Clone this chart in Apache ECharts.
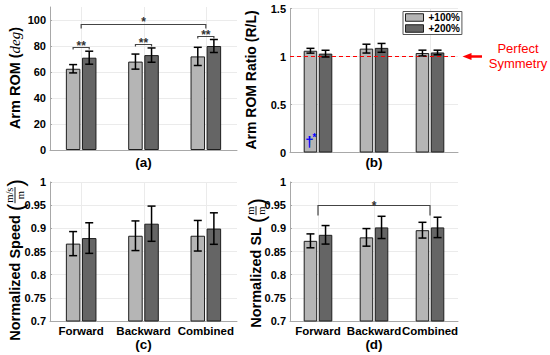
<!DOCTYPE html>
<html><head><meta charset="utf-8">
<script src="https://cdn.jsdelivr.net/npm/echarts@6/dist/echarts.min.js"></script>
<style>html,body{margin:0;padding:0;background:#fff}#c{width:550px;height:355px}</style>
</head><body><div id="c"></div>
<script>
// ---------- data ----------
const categories = ['Forward', 'Backward', 'Combined'];
const seriesNames = ['+100%', '+200%'];
// (a) Arm ROM (deg)
const romMean100 = [62.5, 68, 72];
const romErr100  = [3.2, 5.8, 7];
const romMean200 = [71, 73, 80];
const romErr200  = [5, 5.5, 5];
// (b) Arm ROM ratio (R/L)
const ratioMean100 = [1.06, 1.082, 1.036];
const ratioErr100  = [0.025, 0.046, 0.03];
const ratioMean200 = [1.03, 1.09, 1.042];
const ratioErr200  = [0.035, 0.046, 0.024];
// (c) Normalized speed
const speedMean100 = [0.867, 0.884, 0.884];
const speedErr100  = [0.026, 0.032, 0.033];
const speedMean200 = [0.879, 0.910, 0.8995];
const speedErr200  = [0.033, 0.038, 0.034];
// (d) Normalized SL
const slMean100 = [0.873, 0.8805, 0.896];
const slErr100  = [0.015, 0.019, 0.017];
const slMean200 = [0.886, 0.902, 0.902];
const slErr200  = [0.020, 0.024, 0.022];
// significance annotations: [category, y, label] (pair within group) / [catA, catB, y, label]
const romPairSig  = [[0, 79.2, '**'], [1, 81.3, '**'], [2, 87.7, '**']];
const romGroupSig = [[0, 2, 96.7, '*']];
const slGroupSig  = [[0, 2, 0.950, '*']];
const symmetryLevel = 1;
// tick settings
const yTicks = [
  {min: 0, max: 110, interval: 20},
  {min: 0, max: 1.5, interval: 0.5},
  {min: 0.7, max: 1, interval: 0.05},
  {min: 0.7, max: 1, interval: 0.05}
];

// ---------- styles ----------
const SANS = '"Liberation Sans", Arial, Helvetica, sans-serif';
const SERIF = '"Liberation Serif", "Times New Roman", serif';
const lightColor = '#b5b5b5', darkColor = '#656565', edgeColor = '#1e1e1e';
const axisColor = '#a8a8a8', gridColor = '#ebebeb';
const GAP = 1.6;

const panels = [
  {m: [romMean100, romMean200], e: [romErr100, romErr200], grid: {left: 50, top: 7, width: 187, height: 143}, bw: 14.5, xname: '(a)', showX: false, nameGap: 5},
  {m: [ratioMean100, ratioMean200], e: [ratioErr100, ratioErr200], grid: {left: 290, top: 8.5, width: 168, height: 144}, bw: 13.5, xname: '(b)', showX: false, nameGap: 3},
  {m: [speedMean100, speedMean200], e: [speedErr100, speedErr200], grid: {left: 50, top: 182, width: 187, height: 139}, bw: 14.5, xname: '(c)', showX: true, nameGap: 16.5},
  {m: [slMean100, slMean200], e: [slErr100, slErr200], grid: {left: 290, top: 182, width: 168, height: 139}, bw: 13.5, xname: '(d)', showX: true, nameGap: 16.5}
];

const chart = echarts.init(document.getElementById('c'), null, {renderer: 'svg', width: 550, height: 355});

function errRender(bw) {
  return function (params, api) {
    const cat = api.value(0), s = api.value(1), mv = api.value(2), ev = api.value(3);
    const off = (s === 0 ? -1 : 1) * (bw + GAP) / 2;
    const top = api.coord([cat, mv + ev]);
    const bot = api.coord([cat, mv - ev]);
    const x = top[0] + off, cw = 4;
    const st = {stroke: '#000', lineWidth: 1.5};
    return {type: 'group', children: [
      {type: 'line', shape: {x1: x, y1: top[1], x2: x, y2: bot[1]}, style: st},
      {type: 'line', shape: {x1: x - cw, y1: top[1], x2: x + cw, y2: top[1]}, style: st},
      {type: 'line', shape: {x1: x - cw, y1: bot[1], x2: x + cw, y2: bot[1]}, style: st}
    ]};
  };
}
function vgridRender(params, api) {
  const x = Math.round(api.coord([api.value(0), api.value(1)])[0]) + 0.5;
  const cs = params.coordSys;
  return {type: 'line', shape: {x1: x, y1: cs.y, x2: x, y2: cs.y + cs.height}, style: {stroke: gridColor, lineWidth: 1}};
}
function bracketRender(bw, labels, dropPx, starOff) {
  return function (params, api) {
    const off = (bw + GAP) / 2;
    const a = api.coord([api.value(0), api.value(4)]);
    const b = api.coord([api.value(2), api.value(4)]);
    const xA = a[0] + api.value(1) * off, xB = b[0] + api.value(3) * off, y = Math.round(a[1]) + 0.5;
    return {type: 'group', children: [
      {type: 'polyline', shape: {points: [[xA, y + dropPx], [xA, y], [xB, y], [xB, y + dropPx]]}, style: {stroke: '#444', lineWidth: 1.2, fill: null}},
      {type: 'text', x: (xA + xB) / 2, y: y - starOff, style: {text: labels[params.dataIndex], font: 'bold 12px ' + SANS, fill: '#333', align: 'center', verticalAlign: 'middle', textAlign: 'center', textVerticalAlign: 'middle'}}
    ]};
  };
}

const grids = [], xAxes = [], yAxes = [], series = [];
panels.forEach((p, i) => {
  grids.push(p.grid);
  xAxes.push({
    type: 'category', gridIndex: i, data: categories, boundaryGap: true,
    axisLine: {show: true, lineStyle: {color: axisColor, width: 1}},
    axisTick: {show: false}, splitLine: {show: false},
    axisLabel: {show: p.showX, interval: 0, hideOverlap: false, fontWeight: 'bold', fontSize: 11.5, color: '#000', fontFamily: SANS, margin: 4},
    name: p.xname, nameLocation: 'middle', nameGap: p.nameGap, nameMoveOverlap: false,
    nameTextStyle: {fontWeight: 'bold', fontSize: 13.5, color: '#000', fontFamily: SANS}
  });
  const t = yTicks[i];
  yAxes.push({
    type: 'value', gridIndex: i, min: t.min, max: t.max, interval: t.interval,
    axisLine: {show: true, lineStyle: {color: axisColor, width: 1}},
    axisTick: {show: true, inside: true, length: 2, lineStyle: {color: axisColor}},
    axisLabel: {fontWeight: 'bold', fontSize: 11, color: '#000', fontFamily: SANS, margin: 4, showMaxLabel: i === 0 ? false : true},
    splitLine: {show: true, lineStyle: {color: gridColor, width: 1}, showMaxLine: i === 0 ? false : true}
  });
  series.push({
    type: 'custom', xAxisIndex: i, yAxisIndex: i, silent: true, z: 0,
    renderItem: vgridRender, encode: {x: 0, y: 1},
    data: categories.map((c, k) => [k, t.min])
  });
  [0, 1].forEach(s => {
    const ser = {
      type: 'bar', name: seriesNames[s], xAxisIndex: i, yAxisIndex: i,
      data: p.m[s], barWidth: p.bw, barGap: (GAP / p.bw * 100).toFixed(1) + '%',
      itemStyle: {color: s === 0 ? lightColor : darkColor, borderColor: edgeColor, borderWidth: 1},
      z: 2 + s, silent: true
    };
    if (i === 1 && s === 1) {
      ser.markLine = {
        silent: true, symbol: ['none', 'none'], label: {show: false},
        lineStyle: {color: '#ff0000', type: [4, 3], width: 1.2},
        data: [{yAxis: symmetryLevel}]
      };
    }
    series.push(ser);
  });
  const errData = [];
  [0, 1].forEach(s => categories.forEach((c, k) => errData.push([k, s, p.m[s][k], p.e[s][k]])));
  series.push({
    type: 'custom', xAxisIndex: i, yAxisIndex: i, silent: true, z: 5,
    renderItem: errRender(p.bw), encode: {x: 0, y: 2}, data: errData
  });
});
// significance brackets
series.push({
  type: 'custom', xAxisIndex: 0, yAxisIndex: 0, silent: true, z: 6,
  renderItem: bracketRender(panels[0].bw, romPairSig.map(d => d[2]), 2, 1.5),
  encode: {x: 0, y: 4},
  data: romPairSig.map(d => [d[0], -1, d[0], 1, d[1]])
});
series.push({
  type: 'custom', xAxisIndex: 0, yAxisIndex: 0, silent: true, z: 6,
  renderItem: bracketRender(panels[0].bw, romGroupSig.map(d => d[3]), 4, 2.5),
  encode: {x: 0, y: 4},
  data: romGroupSig.map(d => [d[0], 0, d[1], 0, d[2]])
});
series.push({
  type: 'custom', xAxisIndex: 3, yAxisIndex: 3, silent: true, z: 6,
  renderItem: bracketRender(panels[3].bw, slGroupSig.map(d => d[3]), 10, -0.4),
  encode: {x: 0, y: 4},
  data: slGroupSig.map(d => [d[0], 0, d[1], 0, d[2]])
});

chart.setOption({
  backgroundColor: '#fff',
  animation: false,
  grid: grids, xAxis: xAxes, yAxis: yAxes, series: series,
  legend: {
    left: 403, top: 11.5, orient: 'vertical', align: 'left',
    itemWidth: 18, itemHeight: 7.5, itemGap: 1, padding: [1, 2, 1, 2],
    backgroundColor: '#fff', borderColor: '#555', borderWidth: 1, borderRadius: 0,
    selectedMode: false,
    textStyle: {fontWeight: 'bold', fontSize: 10, color: '#000', fontFamily: SANS, lineHeight: 10},
    data: seriesNames.map((n, s) => ({name: n, icon: 'rect', itemStyle: {color: s === 0 ? lightColor : darkColor, borderColor: edgeColor, borderWidth: 1}}))
  }
});

// ---------- annotations (text) ----------
const mctx = document.createElement('canvas').getContext('2d');
function tw(text, font) { mctx.font = font; return mctx.measureText(text).width; }
function yLabel(cx, cy, parts) {
  const widths = parts.map(pt => pt.num ? Math.max(tw(pt.num, pt.font), tw(pt.den, pt.font)) + 2 : tw(pt.t, pt.font));
  const W = widths.reduce((a, b) => a + b, 0);
  let pos = -W / 2;
  const children = [];
  parts.forEach((pt, k) => {
    const w = widths[k];
    if (pt.num) {
      children.push({type: 'text', x: pos + w / 2, y: -5.5, style: {text: pt.num, font: pt.font, fill: '#000', align: 'center', verticalAlign: 'middle'}});
      children.push({type: 'text', x: pos + w / 2, y: 5.5, style: {text: pt.den, font: pt.font, fill: '#000', align: 'center', verticalAlign: 'middle'}});
      children.push({type: 'line', shape: {x1: pos + 0.5, y1: 0, x2: pos + w - 0.5, y2: 0}, style: {stroke: '#000', lineWidth: 0.9}});
    } else {
      children.push({type: 'text', x: pos, y: pt.dy || 0, style: {text: pt.t, font: pt.font, fill: '#000', align: 'left', verticalAlign: 'middle'}});
    }
    pos += w;
  });
  return {type: 'group', x: cx, y: cy, rotation: Math.PI / 2, z: 100, children: children};
}
const B14 = 'bold 14.5px ' + SANS;
const PAREN = '22px ' + SANS;
const FR = '10.5px ' + SERIF;

const yLine = chart.convertToPixel({yAxisIndex: 1}, symmetryLevel);
const xFwdB = chart.convertToPixel({xAxisIndex: 1}, categories[0]) - (panels[1].bw + GAP) / 2;
const yDag = chart.convertToPixel({yAxisIndex: 1}, 0.11);

chart.setOption({
  graphic: [
    yLabel(15, 78, [{t: 'Arm ROM (', font: B14}, {t: 'deg', font: 'italic 15px ' + SERIF}, {t: ')', font: B14}]),
    yLabel(251, 80, [{t: 'Arm ROM Ratio (R/L)', font: 'bold 14px ' + SANS}]),
    yLabel(15, 260, [{t: 'Normalized Speed ', font: B14}, {t: '(', font: PAREN}, {num: 'm/s', den: 'm', font: FR}, {t: ')', font: PAREN}]),
    yLabel(256, 263, [{t: 'Normalized SL ', font: B14}, {t: '(', font: PAREN}, {num: 'm', den: 'm', font: FR}, {t: ')', font: PAREN}]),
    {type: 'polygon', z: 100, shape: {points: [[462.5, yLine], [471.5, yLine - 3.5], [471.5, yLine + 3.5]]}, style: {fill: '#ff0000'}},
    {type: 'line', z: 100, shape: {x1: 470, y1: yLine, x2: 482, y2: yLine}, style: {stroke: '#ff0000', lineWidth: 2.5}},
    {type: 'text', z: 100, x: 518, y: yLine - 8, style: {text: 'Perfect', font: '13px ' + SANS, fill: '#ff0000', align: 'center', verticalAlign: 'middle'}},
    {type: 'text', z: 100, x: 518, y: yLine + 7, style: {text: 'Symmetry', font: '13px ' + SANS, fill: '#ff0000', align: 'center', verticalAlign: 'middle'}},
    {type: 'text', z: 100, x: xFwdB - 1, y: yDag, style: {text: '†', font: 'bold 15px ' + SANS, fill: '#0000ff', align: 'center', verticalAlign: 'middle'}},
    {type: 'text', z: 100, x: xFwdB + 4, y: yDag - 4, style: {text: '*', font: 'bold 10px ' + SANS, fill: '#0000ff', align: 'center', verticalAlign: 'middle'}}
  ]
});
</script></body></html>
